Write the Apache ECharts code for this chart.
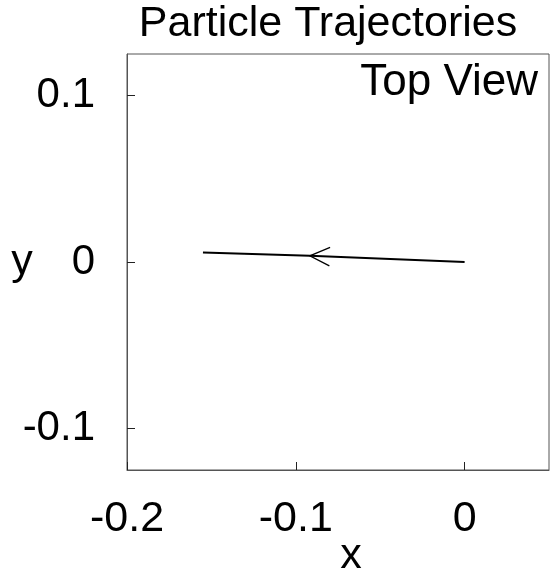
<!DOCTYPE html>
<html>
<head>
<meta charset="utf-8">
<script src="https://cdn.jsdelivr.net/npm/echarts@6/dist/echarts.min.js"></script>
<style>
  html, body { margin: 0; padding: 0; background: #fff; }
  #chart { width: 550px; height: 572px; }
</style>
</head>
<body>
<div id="chart"></div>
<script>
// trajectory of the particle, seen from above
const trajX = [0, -0.0917, -0.155]
const trajY = [0, 0.0037, 0.0057]
// arrow drawn at this trajectory point, pointing along the motion
const arrowIndex = 1
const xTicks = [-0.2, -0.1, 0]
const yTicks = [-0.1, 0, 0.1]

const font = '"Liberation Sans", Arial, Helvetica, sans-serif'
const frameColor = '#555'

const chart = echarts.init(document.getElementById('chart'))

const lineData = trajX.map((x, i) => [x, trajY[i]])
// tip of the arrow and the point it came from
const arrowData = [[trajX[arrowIndex], trajY[arrowIndex], trajX[arrowIndex - 1], trajY[arrowIndex - 1]]]

const option = {
  animation: false,
  title: [
    {
      text: 'Particle Trajectories',
      left: 328,
      top: 3,
      textAlign: 'center',
      padding: 0,
      textStyle: { fontFamily: font, fontSize: 43, fontWeight: 'normal', color: '#000' }
    },
    {
      text: 'Top View',
      right: 12,
      top: 61,
      padding: 0,
      textStyle: { fontFamily: font, fontSize: 44, fontWeight: 'normal', color: '#000' }
    }
  ],
  grid: {
    left: 127,
    right: 1,
    top: 54,
    bottom: 102,
    show: true,
    borderColor: frameColor,
    borderWidth: 1,
    containLabel: false,
    outerBoundsMode: 'none'
  },
  xAxis: {
    type: 'value',
    min: -0.2,
    max: 0.05,
    name: 'x',
    nameLocation: 'middle',
    nameGap: 86,
    nameMoveOverlap: false,
    nameTextStyle: {
      fontFamily: font, fontSize: 43, color: '#000',
      align: 'center', verticalAlign: 'middle', padding: [0, 0, 0, 26]
    },
    splitLine: { show: false },
    axisLine: { show: true, onZero: false, lineStyle: { color: frameColor, width: 1 } },
    axisTick: { show: true, inside: true, length: 8, customValues: xTicks, lineStyle: { color: '#222' } },
    axisLabel: {
      customValues: xTicks,
      margin: 28,
      fontFamily: font, fontSize: 43, color: '#000'
    }
  },
  yAxis: {
    type: 'value',
    min: -0.125,
    max: 0.125,
    name: 'y',
    nameLocation: 'middle',
    nameRotate: 0,
    nameGap: 105,
    nameMoveOverlap: false,
    nameTextStyle: {
      fontFamily: font, fontSize: 43, color: '#000',
      align: 'center', verticalAlign: 'middle', padding: [10, 0, 0, 0]
    },
    splitLine: { show: false },
    axisLine: { show: true, onZero: false, lineStyle: { color: frameColor, width: 1 } },
    axisTick: { show: true, inside: true, length: 8, customValues: yTicks, lineStyle: { color: '#222' } },
    axisLabel: {
      customValues: yTicks,
      margin: 32,
      fontFamily: font, fontSize: 42, color: '#000'
    }
  },
  series: [
    {
      type: 'line',
      data: lineData,
      symbol: 'none',
      lineStyle: { color: '#000', width: 2 }
    },
    {
      type: 'custom',
      data: arrowData,
      renderItem: (params, api) => {
        const tip = api.coord([api.value(0), api.value(1)])
        const back = api.coord([api.value(2), api.value(3)])
        const ang = Math.atan2(back[1] - tip[1], back[0] - tip[0])
        const len = 22
        const spread = 25 * Math.PI / 180
        const w1 = [tip[0] + len * Math.cos(ang - spread), tip[1] + len * Math.sin(ang - spread)]
        const w2 = [tip[0] + len * Math.cos(ang + spread), tip[1] + len * Math.sin(ang + spread)]
        return {
          type: 'polyline',
          shape: { points: [w1, tip, w2] },
          style: { stroke: '#000', lineWidth: 1.3, fill: null }
        }
      }
    }
  ]
}

chart.setOption(option)
</script>
</body>
</html>
